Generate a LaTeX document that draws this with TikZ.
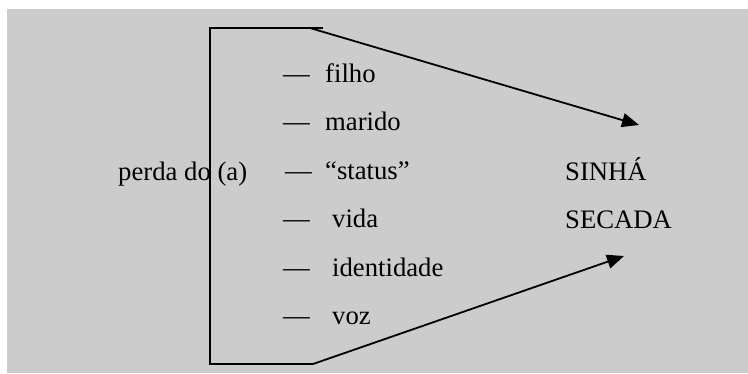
\documentclass[tikz,border=0pt]{standalone}
\usepackage{fontspec}
\setmainfont{Liberation Serif}
\usetikzlibrary{arrows.meta}
\begin{document}
\begin{tikzpicture}[x=1pt,y=-1pt,
  lbl/.style={anchor=base west,inner sep=0pt,font=\fontsize{26.7}{32}\selectfont},
  rule/.style={line width=1.8pt,black},
  pointer/.style={rule,-{Triangle[length=17pt,width=14pt]}}]
  \useasboundingbox (0,0) rectangle (748,373);
  % grey panel
  \fill[gray!40!white,fill=black!20] (7,9) rectangle (748,373);

  % left label
  \node[lbl] (perda) at (118,180) {perda do (a)};

  % list of losses
  \foreach \name/\txt/\k/\dx/\tx in {filho/filho/0/0/325, marido/marido/1/0/325,
      status/“status”/2/2/325, vida/vida/3/0/332, ident/identidade/4/0/332, voz/voz/5/0/332} {
    \node[lbl] (d\name) at (283+\dx,82+48.5*\k) {—};
    \node[lbl] (t\name) at (\tx,82+48.5*\k) {\txt};
  }

  % right label
  \node[lbl] (sinha) at (565,180) {SINHÁ};
  \node[lbl] (secada) at (565,228.5) {SECADA};

  % bracket
  \coordinate (tr) at (323,28);
  \coordinate (tl) at (210,28);
  \coordinate (bl) at (210,364);
  \coordinate (br) at (313,364);
  \draw[rule,line join=miter] (tr) -- (tl) -- (bl) -- (br);

  % arrows
  \coordinate (ta) at (310,28);
  \coordinate (te) at (639,125);
  \coordinate (be) at (624,256);
  \draw[pointer] (ta) -- (te);
  \draw[pointer] (br) -- (be);
\end{tikzpicture}
\end{document}
